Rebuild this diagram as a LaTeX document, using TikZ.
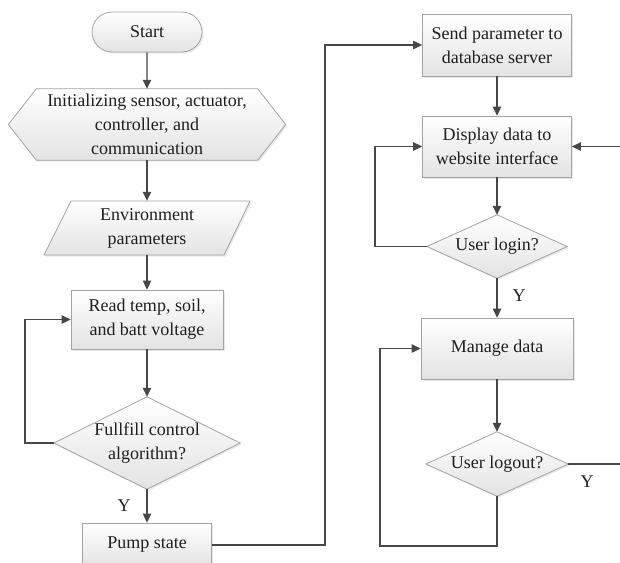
\documentclass[tikz,border=0pt]{standalone}
\usepackage{fontspec}
\setmainfont{Liberation Serif}
\usetikzlibrary{arrows.meta,shapes.misc,backgrounds,shadows}
\tikzset{
  shapefill/.style={draw=black!36, line width=0.8pt, top color=white, bottom color=black!11,
    drop shadow={opacity=0.18, shadow xshift=1.5pt, shadow yshift=-1.5pt}},
  txt/.style={font=\fontsize{18}{24}\selectfont, text=black!88, align=center, inner sep=0pt},
  procbox/.style n args={2}{rectangle, shapefill, txt, minimum width=#1, minimum height=#2},
  holder/.style n args={2}{rectangle, txt, minimum width=#1, minimum height=#2},
  conn/.style={draw=black!72, line width=1.3pt, -{Triangle[length=9pt,width=8.5pt]}},
  wire/.style={draw=black!72, line width=1.3pt},
  ylabel/.style={font=\fontsize{18}{24}\selectfont, text=black!88, inner sep=0pt},
}
\begin{document}
\begin{tikzpicture}[x=1pt,y=-1pt]
\useasboundingbox (0,0) rectangle (620,562);
\clip (0,0) rectangle (620,562);
% left column
\node[rounded rectangle, shapefill, txt, minimum width=110, minimum height=40] (start) at (147,32) {Start};
\node[holder={277}{71}] (init) at (147,124.5) {Initializing sensor, actuator,\\controller, and\\communication};
\node[holder={206}{54}] (env) at (147,228) {Environment\\parameters};
\node[procbox={152}{59}] (read) at (147,319.5) {Read temp, soil,\\and batt voltage};
\node[holder={186}{92}] (ctrl) at (147,443) {Fullfill control\\algorithm?};
\node[procbox={129}{44}] (pump) at (147,545) {Pump state};
% right column
\node[procbox={149}{62}] (send) at (497,45) {Send parameter to\\database server};
\node[procbox={149}{61}] (disp) at (497,146.5) {Display data to\\website interface};
\node[holder={140}{63}] (login) at (497,246.5) {User login?};
\node[procbox={152}{61}] (manage) at (497,348.5) {Manage data};
\node[holder={142}{64}] (logout) at (497,464) {User logout?};
% custom shapes
\begin{scope}[on background layer]
  \path[shapefill] (init.west) -- ([xshift=28]init.north west) -- ([xshift=-28]init.north east)
     -- (init.east) -- ([xshift=-28]init.south east) -- ([xshift=28]init.south west) -- cycle;
  \path[shapefill] ([shift={(-103,27)}]env.center) -- ([shift={(-76,-27)}]env.center)
     -- ([shift={(103,-27)}]env.center) -- ([shift={(77,27)}]env.center) -- cycle;
  \path[shapefill] (ctrl.north) -- (ctrl.east) -- (ctrl.south) -- (ctrl.west) -- cycle;
  \path[shapefill] (login.north) -- (login.east) -- (login.south) -- (login.west) -- cycle;
  \path[shapefill] (logout.north) -- (logout.east) -- (logout.south) -- (logout.west) -- cycle;
\end{scope}
% free ends
\coordinate (loopL) at (25,443);
\coordinate (busX) at (325,545);
\coordinate (loopD) at (375,246.5);
\coordinate (loopM) at (380,546);
\coordinate (edgeA) at (621,464);
\coordinate (edgeB) at (621,146.5);
% connectors left
\draw[conn] (start) -- (init);
\draw[conn] (init) -- (env);
\draw[conn] (env) -- (read);
\draw[conn] (read) -- (ctrl);
\draw[conn] (ctrl) -- (pump);
\node[ylabel] (yctrl) at (124,506) {Y};
\draw[conn] (ctrl.west) -- (loopL) |- (read.west);
\draw[conn] (pump.east) -- (busX) |- (send.west);
% connectors right
\draw[conn] (send) -- (disp);
\draw[conn] (disp) -- (login);
\draw[conn] (login.west) -- (loopD) |- (disp.west);
\draw[conn] (login) -- (manage);
\node[ylabel] (ylogin) at (519,296) {Y};
\draw[conn] (manage) -- (logout);
\draw[conn] (logout.south) |- (loopM) |- (manage.west);
\draw[wire] (logout.east) -- (edgeA);
\node[ylabel] (ylogout) at (587,482) {Y};
\draw[conn] (edgeB) -- (disp.east);
\end{tikzpicture}
\end{document}
